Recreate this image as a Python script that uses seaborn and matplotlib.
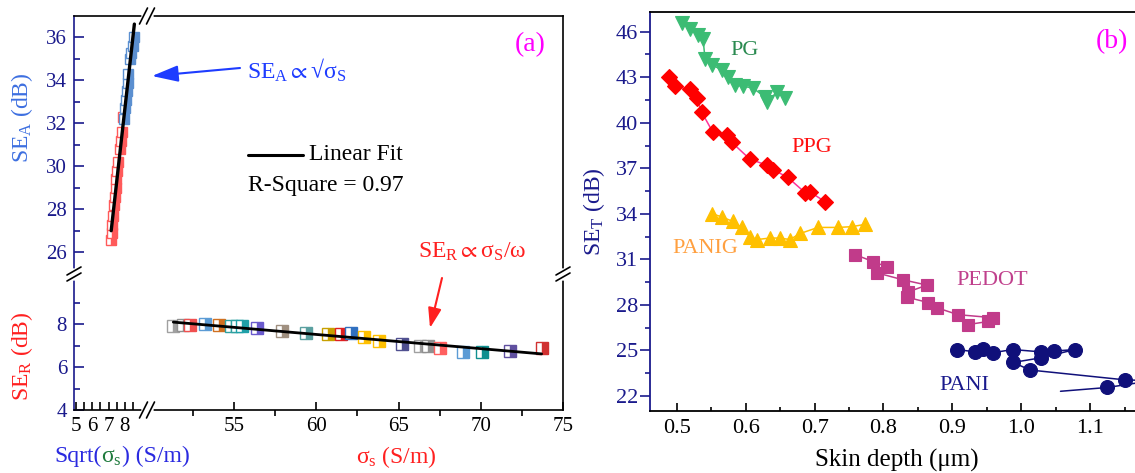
import numpy as np
import matplotlib as mpl
import matplotlib.pyplot as plt
import matplotlib.transforms as mtransforms
from matplotlib.lines import Line2D
from matplotlib.offsetbox import TextArea, HPacker, AnnotationBbox
import seaborn as sns

sns.set_style("ticks")

mpl.rcParams["font.family"] = ["Liberation Serif", "DejaVu Serif"]
mpl.rcParams["mathtext.fontset"] = "custom"
mpl.rcParams["mathtext.rm"] = "Liberation Serif"
mpl.rcParams["mathtext.it"] = "Liberation Serif:italic"
mpl.rcParams["mathtext.fallback"] = "stix"
mpl.rcParams["axes.linewidth"] = 1.2

W, H = 1135, 473

NAVY = "#1a1a8c"
BLUE = "#3d6fe0"
RED = "#ff2020"
MAGENTA = "#ff00ff"

# --------------------------------------------------
# Data, panel (a)
# --------------------------------------------------

sigma_s = [51.3, 51.9, 52.3, 53.2, 54.1, 54.8, 55.2, 55.5, 56.4, 57.9, 59.4, 60.7,
           61.5, 62.1, 62.9, 63.8, 65.2, 66.3, 66.8, 67.5, 68.9, 70.1, 71.8, 73.7]

se_r = [7.90, 7.95, 7.95, 8.00, 7.95, 7.90, 7.90, 7.90, 7.80, 7.70, 7.60, 7.55,
        7.55, 7.60, 7.40, 7.20, 7.05, 7.00, 7.00, 6.90, 6.70, 6.70, 6.75, 6.90]

se_a = [26.6, 26.9, 27.3, 27.7, 28.2, 28.6, 29.0, 29.4, 29.8, 30.2, 30.8, 31.2,
        31.6, 32.3, 32.2, 32.7, 33.1, 33.5, 33.9, 34.3, 35.0, 35.3, 35.6, 36.0]

se_r_colors = ["#a0a0a0", "#909090", "#f05050", "#5b9bd5", "#d07020", "#30a0a0",
               "#30a0a0", "#20a0a8", "#6a5acd", "#a09080", "#5aa0a0", "#c8a000",
               "#e02020", "#3070c0", "#ffc000", "#ffc000", "#505090", "#a0a0a0",
               "#909090", "#ff6060", "#5b9bd5", "#109090", "#6050a0", "#d03030"]

se_a_colors = ["#ff5a5a"] * 14 + ["#5b8fd0"] * 10

# --------------------------------------------------
# Data, panel (b)
# --------------------------------------------------

pg_depth = [0.507, 0.519, 0.531, 0.538, 0.541, 0.551, 0.565, 0.574, 0.584, 0.596,
            0.610, 0.628, 0.631, 0.645, 0.657]
pg_se = [46.6, 46.2, 45.8, 45.5, 44.2, 43.8, 43.5, 43.0, 42.5, 42.4,
         42.3, 41.7, 41.4, 42.0, 41.65]

ppg_depth = [0.488, 0.497, 0.519, 0.529, 0.536, 0.552, 0.573, 0.580, 0.606, 0.631,
             0.640, 0.661, 0.686, 0.693, 0.715]
ppg_se = [43.0, 42.4, 42.2, 41.6, 40.7, 39.4, 39.2, 38.7, 37.6, 37.2,
          36.9, 36.4, 35.4, 35.45, 34.8]

panig_depth = [0.551, 0.565, 0.581, 0.594, 0.606, 0.616, 0.635, 0.650, 0.664, 0.679,
               0.705, 0.734, 0.754, 0.773]
panig_se = [34.0, 33.8, 33.5, 33.1, 32.5, 32.3, 32.4, 32.4, 32.3, 32.7,
            33.1, 33.1, 33.15, 33.3]

pedot_depth = [0.759, 0.785, 0.805, 0.791, 0.828, 0.863, 0.836, 0.834, 0.865, 0.878,
               0.908, 0.959, 0.952, 0.923]
pedot_se = [31.3, 30.85, 30.5, 30.1, 29.65, 29.3, 28.85, 28.5, 28.15, 27.8,
            27.35, 27.15, 26.9, 26.7]

pani_depth = [0.907, 0.933, 0.945, 0.959, 0.988, 1.028, 1.047, 1.078, 1.028, 0.988,
              1.013, 1.151, 1.190, 1.125, 1.057]
pani_se = [25.05, 24.9, 25.1, 24.85, 25.05, 24.9, 24.95, 25.05, 24.5, 24.2,
           23.7, 23.05, 23.0, 22.55, 22.3]


def box(left, top, right, bottom):
    return [left / W, 1 - bottom / H, (right - left) / W, (bottom - top) / H]


def f(x, y):
    return (x / W, 1 - y / H)


def axis_break(ax, cx, cy, vertical):
    trans = mtransforms.ScaledTranslation(cx, cy, ax.transAxes)
    if vertical:
        gap = Line2D([0, 0], [-3.5, 3.5], color="white", lw=4, transform=trans)
        marks = [Line2D([-7, 7], [d - 4, d + 4], color="black", lw=1.2,
                        transform=trans) for d in (-3, 3)]
    else:
        gap = Line2D([-3.5, 3.5], [0, 0], color="white", lw=4, transform=trans)
        marks = [Line2D([d - 4, d + 4], [-8, 8], color="black", lw=1.2,
                        transform=trans) for d in (-3.5, 3.5)]
    for a in [gap] + marks:
        a.set_clip_on(False)
        ax.figure.add_artist(a)


fig = plt.figure(figsize=(W / 100, H / 100), dpi=100)

ax_tl = fig.add_axes(box(74, 16, 147, 274))
ax_tr = fig.add_axes(box(147, 16, 563, 274))
ax_bl = fig.add_axes(box(74, 274, 147, 410))
ax_br = fig.add_axes(box(147, 274, 563, 410))
ax_b = fig.add_axes(box(650, 12, 1159, 411))

SQRT_LIM = (4.88, 9.36)
SIG_LIM = (49.7, 75)
SEA_LIM = (25, 37)
SER_LIM = (4, 10.33)

# --------------------------------------------------
# Panel (a): SE_A vs sqrt(sigma)
# --------------------------------------------------

sqrt_sigma = np.sqrt(sigma_s)

for x, y, c in zip(sqrt_sigma, se_a, se_a_colors):
    ax_tl.plot(x, y, marker="s", ms=7.5, ls="none", fillstyle="right",
               markerfacecolor=c, markerfacecoloralt="white",
               markeredgecolor=c, mew=1)

sns.regplot(x=sqrt_sigma, y=se_a, ax=ax_tl, scatter=False, ci=None,
            truncate=True, color="black", line_kws={"lw": 2.4})

# SE_R vs sigma
for x, y, c in zip(sigma_s, se_r, se_r_colors):
    ax_br.plot(x, y, marker="s", ms=8, ls="none", fillstyle="right",
               markerfacecolor=c, markerfacecoloralt="white",
               markeredgecolor=c, mew=1)

sns.regplot(x=np.array(sigma_s), y=se_r, ax=ax_br, scatter=False, ci=None,
            truncate=True, color="black", line_kws={"lw": 2.0})

for ax in (ax_tl, ax_bl):
    ax.set_xlim(*SQRT_LIM)
for ax in (ax_tr, ax_br):
    ax.set_xlim(*SIG_LIM)
for ax in (ax_tl, ax_tr):
    ax.set_ylim(*SEA_LIM)
for ax in (ax_bl, ax_br):
    ax.set_ylim(*SER_LIM)

for ax in (ax_tl, ax_tr, ax_bl, ax_br):
    ax.set_xlabel("")
    ax.set_ylabel("")
    for side in ("top", "bottom", "left", "right"):
        ax.spines[side].set_visible(False)
        ax.spines[side].set_color("black")
        ax.spines[side].set_linewidth(1.2)

ax_tl.spines["left"].set_visible(True)
ax_tl.spines["left"].set_color(NAVY)
ax_tl.spines["top"].set_visible(True)
ax_tr.spines["top"].set_visible(True)
ax_tr.spines["right"].set_visible(True)
ax_bl.spines["left"].set_visible(True)
ax_bl.spines["left"].set_color(NAVY)
ax_bl.spines["bottom"].set_visible(True)
ax_br.spines["bottom"].set_visible(True)
ax_br.spines["right"].set_visible(True)

ax_tr.set_xticks([])
ax_tr.set_yticks([])

ax_tl.set_xticks([])
ax_tl.set_yticks([26, 28, 30, 32, 34, 36])
ax_tl.set_yticks([27, 29, 31, 33, 35], minor=True)

ax_bl.set_yticks([4, 6, 8])
ax_bl.set_yticks([5, 7, 9], minor=True)
ax_bl.set_xticks([5, 6, 7, 8])
ax_bl.set_xticks([5.5, 6.5, 7.5, 8.5], minor=True)

ax_br.set_yticks([])
ax_br.set_xticks([55, 60, 65, 70, 75])
ax_br.set_xticks([52.5, 57.5, 62.5, 67.5, 72.5], minor=True)

for ax in (ax_tl, ax_bl):
    ax.tick_params(axis="y", which="major", direction="in", length=7, width=1.2,
                   color=NAVY, labelcolor=NAVY, labelsize=15, pad=5)
    ax.tick_params(axis="y", which="minor", direction="in", length=4, width=1.2,
                   color=NAVY)

ax_bl.tick_params(axis="x", which="both", direction="in", length=6, width=1.2,
                  color="black", labelcolor="black", labelsize=15, pad=5)
ax_br.tick_params(axis="x", which="major", direction="in", length=6, width=1.2,
                  color="black", labelcolor="black", labelsize=15, pad=5)
ax_br.tick_params(axis="x", which="minor", direction="out", length=4, width=1.2,
                  color="black")

axis_break(ax_tl, 1, 1, vertical=False)
axis_break(ax_bl, 1, 0, vertical=False)
axis_break(ax_bl, 0, 1, vertical=True)
axis_break(ax_br, 1, 1, vertical=True)

# Axis titles
fig.text(*f(22, 118), r"SE$_\mathrm{A}$ (dB)", rotation=90, ha="center",
         va="center", color=BLUE, fontsize=17)
fig.text(*f(22, 356), r"SE$_\mathrm{R}$ (dB)", rotation=90, ha="center",
         va="center", color=RED, fontsize=17)

sqrt_label = HPacker(
    children=[
        TextArea("Sqrt(", textprops=dict(color="#2a2ae0", fontsize=17)),
        TextArea(r"σ$_\mathrm{s}$", textprops=dict(color="#1e7a3c", fontsize=17)),
        TextArea(") (S/m)", textprops=dict(color="#2a2ae0", fontsize=17)),
    ],
    align="baseline", pad=0, sep=0,
)
fig.add_artist(AnnotationBbox(sqrt_label, f(122, 457), xycoords="figure fraction",
                              frameon=False, box_alignment=(0.5, 0.5)))

fig.text(*f(396, 457), r"σ$_\mathrm{s}$ (S/m)", ha="center", va="center",
         color=RED, fontsize=17)

# Annotations
fig.text(*f(247, 70), r"SE$_\mathrm{A}$$\propto$√σ$_\mathrm{S}$", ha="left",
         va="center", color="#1e3cff", fontsize=17)
ax_tr.annotate("", xy=f(152, 76), xycoords="figure fraction",
               xytext=f(240, 68), textcoords="figure fraction",
               arrowprops=dict(arrowstyle="-|>,head_length=0.8,head_width=0.25",
                               color="#1e3cff", lw=1.5, mutation_scale=20,
                               shrinkA=0, shrinkB=0))

fig.text(*f(472, 252), r"SE$_\mathrm{R}$$\propto$σ$_\mathrm{S}$/ω", ha="center",
         va="center", color=RED, fontsize=17)
ax_br.annotate("", xy=f(430, 328), xycoords="figure fraction",
               xytext=f(442, 278), textcoords="figure fraction",
               arrowprops=dict(arrowstyle="-|>,head_length=0.6,head_width=0.2",
                               color=RED, lw=1.5, mutation_scale=20,
                               shrinkA=0, shrinkB=0))

fig.add_artist(Line2D([248 / W, 303 / W], [1 - 155 / H, 1 - 155 / H],
                      transform=fig.transFigure, color="black", lw=2.2))
fig.text(*f(309, 155), "Linear Fit", ha="left", va="center", color="black",
         fontsize=17)
fig.text(*f(248, 185), "R-Square = 0.97", ha="left", va="center", color="black",
         fontsize=17)

fig.text(*f(530, 45), "(a)", ha="center", va="center", color=MAGENTA, fontsize=20)

# --------------------------------------------------
# Panel (b): SE_T vs skin depth
# --------------------------------------------------

series = [
    (pg_depth, pg_se, "v", 10.5, "#3cbc74", "#3cbc74", None),
    (ppg_depth, ppg_se, "D", 8, "#ff0000", "#ff3399", None),
    (panig_depth, panig_se, "^", 10.5, "#ffc000", "#ffc000", None),
    (pedot_depth, pedot_se, "s", 9, "#c13b8a", "#c13b8a", None),
    (pani_depth, pani_se, "o", 10, "#10107a", "#10107a", list(range(14))),
]

for x, y, marker, ms, mcolor, lcolor, every in series:
    sns.lineplot(x=x, y=y, ax=ax_b, sort=False, estimator=None, color=lcolor,
                 linewidth=1.1, marker=marker, markersize=ms,
                 markerfacecolor=mcolor, markeredgecolor=mcolor,
                 markeredgewidth=0.8, markevery=every)

ax_b.set_xlim(0.461, 1.2)
ax_b.set_ylim(21.0, 47.3)
ax_b.set_xticks([0.5, 0.6, 0.7, 0.8, 0.9, 1.0, 1.1])
ax_b.set_xticklabels(["0.5", "0.6", "0.7", "0.8", "0.9", "1.0", "1.1"])
ax_b.set_xticks([0.55, 0.65, 0.75, 0.85, 0.95, 1.05, 1.15], minor=True)
ax_b.set_yticks([22, 25, 28, 31, 34, 37, 40, 43, 46])
ax_b.set_yticks([23.5, 26.5, 29.5, 32.5, 35.5, 38.5, 41.5, 44.5], minor=True)

for side in ("top", "bottom", "right"):
    ax_b.spines[side].set_color("black")
    ax_b.spines[side].set_linewidth(1.3)
ax_b.spines["left"].set_color(NAVY)
ax_b.spines["left"].set_linewidth(1.3)

ax_b.tick_params(axis="y", which="major", direction="out", length=7, width=1.2,
                 color=NAVY, labelcolor=NAVY, labelsize=16, pad=1.5)
ax_b.tick_params(axis="y", which="minor", direction="out", length=3.5, width=1.2,
                 color=NAVY)
ax_b.tick_params(axis="x", which="major", direction="in", length=6, width=1.2,
                 color="black", labelcolor="black", labelsize=16, pad=6)
ax_b.tick_params(axis="x", which="minor", direction="in", length=3, width=1.2,
                 color="black")

ax_b.set_xlabel("")
ax_b.set_ylabel("")

fig.text(*f(594, 212), r"SE$_\mathrm{T}$ (dB)", rotation=90, ha="center",
         va="center", color=NAVY, fontsize=17)
fig.text(*f(897, 460), "Skin depth (μm)", ha="center", va="center",
         color="black", fontsize=18)

labels_b = [
    ("PG", 0.599, 44.75, "#2a8a50"),
    ("PPG", 0.696, 38.35, "#ff1010"),
    ("PANIG", 0.542, 31.7, "#ffa040"),
    ("PEDOT", 0.958, 29.6, "#c0408c"),
    ("PANI", 0.917, 22.66, NAVY),
]
for text, x, y, c in labels_b:
    ax_b.text(x, y, text, ha="center", va="center", color=c, fontsize=16)

fig.text(*f(1112, 42), "(b)", ha="center", va="center", color=MAGENTA, fontsize=20)

fig.savefig("out.png", dpi=100)
